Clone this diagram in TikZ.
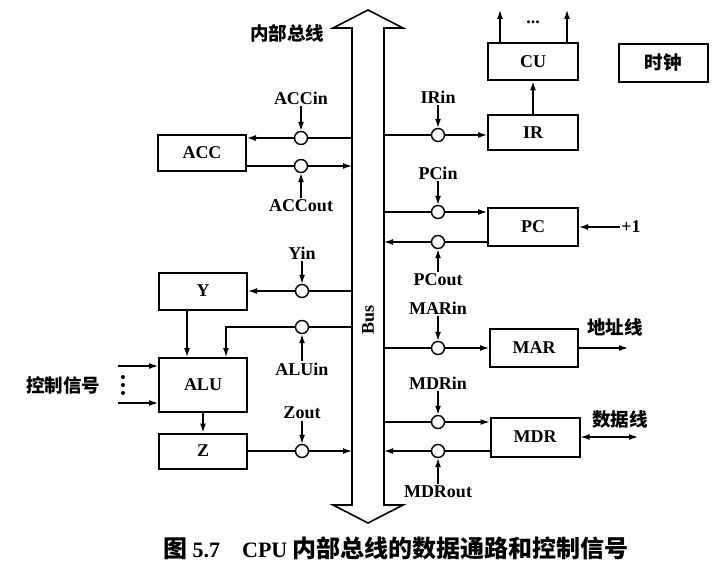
\documentclass[tikz,border=0pt]{standalone}
\usepackage{fontspec}
\setmainfont{Liberation Serif}
\newfontfamily\cjk{Noto Sans CJK SC}
\usetikzlibrary{arrows.meta}

\begin{document}
\begin{tikzpicture}[
    x=1pt, y=-1pt,
    font=\fontsize{18}{20}\selectfont\bfseries,
    box/.style={draw, line width=2pt, minimum width=88pt, inner sep=0pt},
    gate/.style={draw, circle, line width=1.4pt, minimum size=13pt, inner sep=0pt, fill=white},
    sig/.style={inner sep=1.5pt},
    zh/.style={font=\cjk\fontsize{18.5}{20}\selectfont\bfseries},
    ar/.style={-{Latex[length=9pt, width=6pt]}, line width=1.3pt},
    dar/.style={{Latex[length=9pt, width=6pt]}-{Latex[length=9pt, width=6pt]}, line width=1.3pt}
  ]
  \useasboundingbox (0,0) rectangle (719,569);
  % internal bus
  \draw[line width=1.6pt, fill=white] (368,10) -- (403,28) -- (384,28) -- (384,505) -- (403,505)
    -- (368,523) -- (333,505) -- (352,505) -- (352,28) -- (333,28) -- cycle;
  \coordinate (busl) at (352,28);
  \coordinate (busr) at (384,28);
  \node[rotate=90] (bus) at (368,320) {Bus};
  \node[zh] (bustitle) at (287,33) {内部总线};

  % left side registers
  \node[box, minimum height=36pt] (accreg) at (202,153) {ACC};
  \node[box, minimum height=37pt] (yreg) at (203,291) {Y};
  \node[box, minimum height=54pt] (alu) at (203,385) {ALU};
  \node[box, minimum height=35pt] (zreg) at (203,451) {Z};

  \node[gate] (accin) at (301,138) {};
  \node[gate] (accout) at (301,166) {};
  \node[gate] (yin) at (302,291) {};
  \node[gate] (aluin) at (302,327) {};
  \node[gate] (zout) at (302,451) {};

  \node[sig] (accinl) at (301,98) {ACCin};
  \node[sig] (accoutl) at (301,206) {ACCout};
  \node[sig] (yinl) at (302,253) {Yin};
  \node[sig] (aluinl) at (302,369) {ALUin};
  \node[sig] (zoutl) at (302,413) {Zout};

  \draw[ar] (accinl) -- (accin);
  \draw[ar] (accoutl) -- (accout);
  \draw[ar] (yinl) -- (yin);
  \draw[ar] (aluinl) -- (aluin);
  \draw[ar] (zoutl) -- (zout);

  \draw[ar] (accin -| busl) -- (accin) -- (accin -| accreg.east);
  \draw[ar] (accout -| accreg.east) -- (accout) -- (accout -| busl);
  \draw[ar] (yin -| busl) -- (yin) -- (yreg);
  \draw[ar] (aluin -| busl) -- (aluin) -| ([xshift=23pt]alu.north);
  \draw[ar] ([xshift=-16pt]yreg.south) -- ([xshift=-16pt]alu.north);
  \draw[ar] (alu) -- (zreg);
  \draw[ar] (zreg) -- (zout) -- (zout -| busl);

  % control signals into the ALU
  \coordinate (c1) at (118,366);
  \coordinate (c2) at (118,403);
  \draw[ar] (c1) -- (c1 -| alu.west);
  \draw[ar] (c2) -- (c2 -| alu.west);
  \foreach \k in {-8,0,8}
    \fill (123,385+\k) circle (2pt);
  \node[zh] (ctrl) at (63,385) {控制信号};

  % right side registers
  \node[box, minimum width=90pt, minimum height=37pt] (cu) at (533,62) {CU};
  \node[box, minimum width=90pt, minimum height=35pt] (ir) at (533,133) {IR};
  \node[box, minimum width=89pt, minimum height=38pt, zh] (clk) at (663,63) {时钟};
  \node[box, minimum width=90pt, minimum height=38pt] (pc) at (533,227) {PC};
  \node[box, minimum height=38pt] (mar) at (534,348) {MAR};
  \node[box, minimum width=89pt, minimum height=39pt] (mdr) at (535,437) {MDR};

  \node[gate] (irin) at (438,135) {};
  \node[gate] (pcin) at (438,212) {};
  \node[gate] (pcout) at (438,242) {};
  \node[gate] (marin) at (438,348) {};
  \node[gate] (mdrin) at (438,422) {};
  \node[gate] (mdrout) at (438,451) {};

  \node[sig] (irinl) at (438,97) {IRin};
  \node[sig] (pcinl) at (438,173) {PCin};
  \node[sig] (pcoutl) at (438,280) {PCout};
  \node[sig] (marinl) at (438,308) {MARin};
  \node[sig] (mdrinl) at (438,383) {MDRin};
  \node[sig] (mdroutl) at (438,492) {MDRout};

  \draw[ar] (irinl) -- (irin);
  \draw[ar] (pcinl) -- (pcin);
  \draw[ar] (pcoutl) -- (pcout);
  \draw[ar] (marinl) -- (marin);
  \draw[ar] (mdrinl) -- (mdrin);
  \draw[ar] (mdroutl) -- (mdrout);

  \draw[ar] (irin -| busr) -- (irin) -- (irin -| ir.west);
  \draw[ar] (ir) -- (cu);
  \coordinate (cu1) at (500,10);
  \coordinate (cu2) at (567,10);
  \draw[ar] (cu1 |- cu.north) -- (cu1);
  \draw[ar] (cu2 |- cu.north) -- (cu2);
  \node (cudots) at (533,22) {...};

  \draw[ar] (pcin -| busr) -- (pcin) -- (pcin -| pc.west);
  \draw[ar] (pcout -| pc.west) -- (pcout) -- (pcout -| busr);
  \node[sig] (inc) at (631,227) {+1};
  \draw[ar] (inc) -- (pc);

  \draw[ar] (marin -| busr) -- (marin) -- (mar);
  \coordinate (addr) at (628,348);
  \draw[ar] (mar) -- (addr);
  \node[zh] (addrl) at (615,327) {地址线};

  \draw[ar] (mdrin -| busr) -- (mdrin) -- (mdrin -| mdr.west);
  \draw[ar] (mdrout -| mdr.west) -- (mdrout) -- (mdrout -| busr);
  \coordinate (data) at (638,437);
  \draw[dar] (mdr) -- (data);
  \node[zh] (datal) at (620,419) {数据线};

  % caption
  \node[font=\fontsize{22}{24}\selectfont\bfseries] (cap) at (396,548)
    {{\cjk\fontsize{24}{26}\selectfont 图} 5.7\quad CPU {\cjk\fontsize{24}{26}\selectfont 内部总线的数据通路和控制信号}};
\end{tikzpicture}
\end{document}
